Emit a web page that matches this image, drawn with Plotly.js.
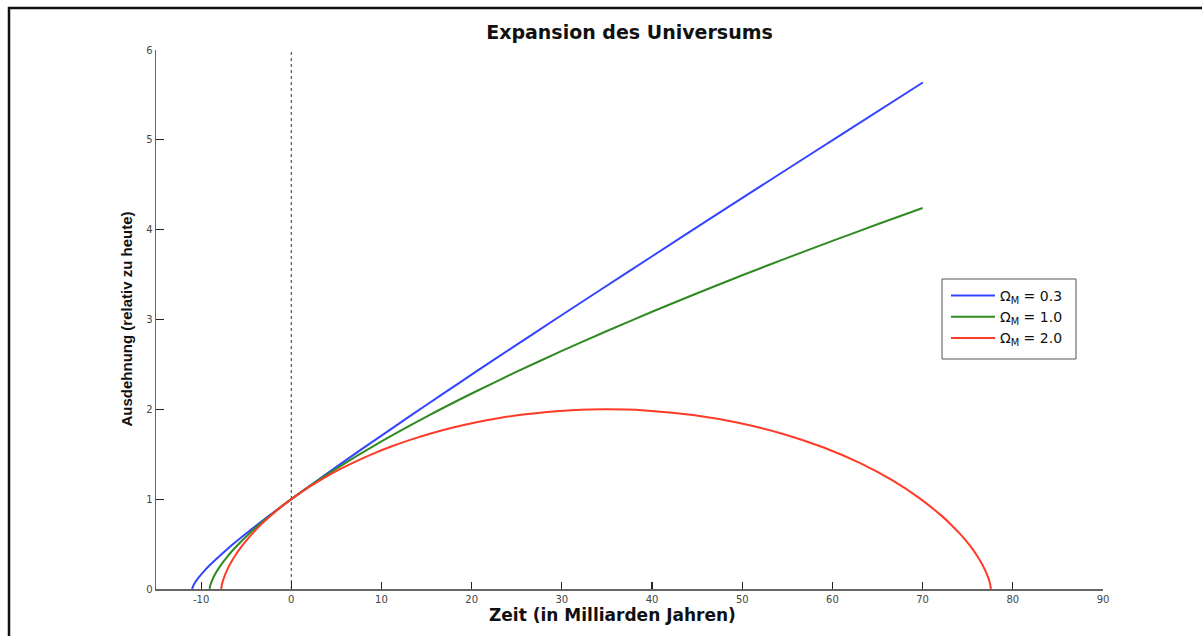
<!DOCTYPE html>
<html>
<head>
<meta charset="utf-8">
<script src="https://cdn.plot.ly/plotly-3.0.1.min.js"></script>
<style>
  html, body { margin: 0; padding: 0; background: #fff; }
  #chart { width: 1202px; height: 636px; }
</style>
</head>
<body>
<div id="chart"></div>
<script>
// Zeit in Milliarden Jahren (relativ zu heute) und Ausdehnung (relativ zu heute)
const t_03 = [-10.98, -10.975, -10.91, -10.67, -10.37, -9.59, -9.02, -8.28, -7.01, -5.32, -3.13, -1.81, 0, 3.26, 7.77, 13.43, 16.76, 20.48, 24.63, 29.24, 34.38, 40.10, 46.40, 53.50, 61.33, 70.02];
const a_03 = [0, 0.004, 0.027, 0.072, 0.116, 0.208, 0.267, 0.338, 0.452, 0.592, 0.765, 0.865, 1.0, 1.236, 1.554, 1.943, 2.169, 2.419, 2.695, 3.000, 3.337, 3.710, 4.120, 4.578, 5.081, 5.638];

const t_10 = [-9.05, -9.0, -8.95, -8.8, -8.5, -8.0, -7.0, -6.0, -5.0, -4.0, -3.0, -2.0, -1.0, 0, 2, 5, 10, 15, 20, 25, 30, 35, 40, 45, 50, 55, 60, 65, 70];
const a_10 = [0, 0.031, 0.050, 0.091, 0.155, 0.238, 0.372, 0.484, 0.585, 0.678, 0.765, 0.847, 0.925, 1.0, 1.142, 1.341, 1.643, 1.919, 2.176, 2.419, 2.650, 2.872, 3.086, 3.292, 3.492, 3.686, 3.875, 4.060, 4.241];

const t_20 = [-7.76, -7.75, -7.70, -7.62, -7.48, -7.28, -7.00, -6.64, -6.18, -5.61, -4.92, -4.12, -3.19, -2.13, 0, 1.86, 3.46, 5.19, 7.05, 9.04, 11.14, 13.35, 15.66, 18.06, 20.55, 23.10, 25.71, 28.37, 31.06, 34.90, 39.20, 44.53, 49.68, 54.54, 59.03, 63.08, 66.62, 69.64, 72.12, 73.16, 74.07, 74.85, 75.52, 76.07, 76.51, 76.86, 77.12, 77.31, 77.44, 77.51, 77.57];
const a_20 = [0, 0.011, 0.045, 0.079, 0.122, 0.175, 0.235, 0.303, 0.378, 0.460, 0.546, 0.638, 0.733, 0.830, 1.0, 1.129, 1.227, 1.323, 1.416, 1.505, 1.589, 1.666, 1.737, 1.801, 1.857, 1.904, 1.942, 1.971, 1.990, 2.0, 1.988, 1.937, 1.848, 1.726, 1.575, 1.401, 1.211, 1.012, 0.814, 0.716, 0.622, 0.532, 0.446, 0.365, 0.291, 0.224, 0.165, 0.115, 0.073, 0.040, 0];

const seriesNames = ['Ω<sub>M</sub> = 0.3', 'Ω<sub>M</sub> = 1.0', 'Ω<sub>M</sub> = 2.0'];
const xTicks = [-10, 0, 10, 20, 30, 40, 50, 60, 70, 80, 90];
const yTicks = [0, 1, 2, 3, 4, 5, 6];

const colors = ['#3344ff', '#2f8a22', '#ff3a28'];
const font = 'Liberation Sans, Arial, sans-serif';
const wide = 'DejaVu Sans, Liberation Sans, sans-serif';

// pixel -> paper helpers (plot area: x 156..1103, y 50..589)
const px = v => (v - 156) / 947;
const py = v => (589 - v) / 539;

const traces = [
  {x: t_03, y: a_03, name: seriesNames[0]},
  {x: t_10, y: a_10, name: seriesNames[1]},
  {x: t_20, y: a_20, name: seriesNames[2]}
].map((tr, i) => Object.assign(tr, {
  type: 'scatter', mode: 'lines',
  line: {color: colors[i], width: 2, shape: 'spline', smoothing: 0.6},
  cliponaxis: false
}));

const layout = {
  width: 1202, height: 636,
  margin: {l: 156, r: 99, t: 50, b: 47},
  paper_bgcolor: '#fff', plot_bgcolor: '#fff',
  showlegend: true,
  font: {family: font, color: '#222'},
  xaxis: {
    range: [-15, 90], tickvals: xTicks, ticktext: xTicks.map(String),
    ticks: 'inside', ticklen: 7, tickwidth: 1.2, tickcolor: '#222',
    showline: true, linecolor: '#666', linewidth: 1.5,
    showgrid: false, zeroline: false,
    tickfont: {size: 10, color: '#444', family: wide}
  },
  yaxis: {
    range: [0, 6], tickvals: yTicks, ticktext: yTicks.map(String),
    ticks: 'inside', ticklen: 8, tickwidth: 1.2, tickcolor: '#222',
    showline: true, linecolor: '#666', linewidth: 1.5,
    showgrid: false, zeroline: false,
    tickfont: {size: 10, color: '#444', family: wide}
  },
  title: {
    text: '<b>Expansion des Universums</b>',
    font: {size: 19, color: '#111', family: wide},
    xref: 'paper', x: 0.5, xanchor: 'center',
    yref: 'container', y: 1 - 32/636, yanchor: 'middle'
  },
  legend: {
    x: px(946), y: py(280), xanchor: 'left', yanchor: 'top',
    borderwidth: 0, bgcolor: 'rgba(255,255,255,0)',
    font: {size: 14, color: '#111', family: wide},
    itemwidth: 44, tracegroupgap: 0
  },
  annotations: [
    {text: '<b>Zeit (in Milliarden Jahren)</b>', xref: 'paper', yref: 'paper',
     x: px(612), y: py(615), xanchor: 'center', yanchor: 'middle',
     showarrow: false, font: {size: 17, color: '#111', family: wide}},
    {text: '<b>Ausdehnung (relativ zu heute)</b>', xref: 'paper', yref: 'paper',
     x: px(126), y: 0.5, xanchor: 'center', yanchor: 'middle', textangle: -90,
     showarrow: false, font: {size: 15, color: '#111', family: font}}
  ],
  shapes: [
    {type: 'line', xref: 'x', yref: 'y', x0: 0, x1: 0, y0: 0, y1: 6,
     line: {color: '#333', width: 1, dash: 'dot'}, layer: 'below'},
    {type: 'rect', xref: 'paper', yref: 'paper',
     x0: px(942), x1: px(1076), y0: py(359), y1: py(279),
     line: {color: '#555', width: 1}, fillcolor: '#fff', layer: 'below'},
    {type: 'rect', xref: 'paper', yref: 'paper',
     x0: px(9), x1: px(1210), y0: py(645), y1: py(8),
     line: {color: '#111', width: 2.5}, layer: 'below'}
  ]
};

Plotly.newPlot('chart', traces, layout, {displayModeBar: false, staticPlot: true});
</script>
</body>
</html>
